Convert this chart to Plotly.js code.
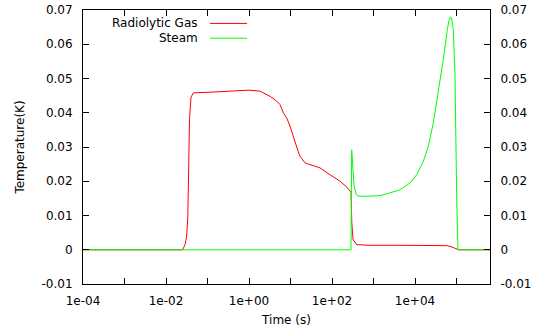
<!DOCTYPE html>
<html>
<head>
<meta charset="utf-8">
<script src="https://cdn.plot.ly/plotly-3.0.1.min.js"></script>
<style>html,body{margin:0;padding:0;background:#fff;}#chart{width:535px;height:335px;}</style>
</head>
<body>
<div id="chart"></div>
<script>
// Radiolytic Gas series
const gasTime = [1e-4, 0.01, 0.0252, 0.0287, 0.0315, 0.0336, 0.0352, 0.0368, 0.040, 0.0455, 0.1148, 0.348, 0.607, 1.0, 1.84, 3.21, 4.65, 5.58, 6.71, 8.09, 9.72, 11.5, 12.8, 15.2, 16.9, 19.5, 22.3, 25.7, 29.5, 51.4, 89.5, 156, 226, 287, 300, 321, 394, 824, 4355, 40000, 58000, 78000, 97300, 112000, 640000];
const gasTemp = [0, 0, 0, 0.0015, 0.004, 0.010, 0.024, 0.038, 0.0445, 0.0458, 0.0460, 0.0463, 0.0466, 0.0466, 0.0463, 0.0448, 0.0434, 0.0424, 0.0400, 0.0385, 0.0361, 0.0333, 0.0312, 0.0288, 0.0273, 0.0262, 0.0254, 0.0251, 0.0249, 0.0239, 0.0219, 0.0200, 0.0183, 0.0168, 0.008, 0.003, 0.0015, 0.0013, 0.0013, 0.0013, 0.0012, 0.0008, 0.0003, 0, 0];
// Steam series
const steamTime = [1e-4, 287, 298, 321, 339, 379, 423, 624, 1435, 2500, 4355, 7590, 11000, 15850, 20900, 27600, 36400, 48100, 60000, 66000, 72400, 78000, 83700, 92000, 101200, 108700, 640000];
const steamTemp = [0, 0, 0.0292, 0.024, 0.019, 0.0162, 0.0157, 0.0156, 0.0158, 0.0166, 0.0175, 0.0195, 0.0219, 0.0258, 0.0302, 0.0370, 0.0458, 0.0556, 0.0643, 0.0670, 0.0680, 0.0670, 0.0643, 0.0507, 0.0146, 0, 0];
// Tick labels
const xTickVals = [1e-4, 1e-2, 1, 1e2, 1e4];
const xTickText = ['1e-04', '1e-02', '1e+00', '1e+02', '1e+04'];
const xMinorVals = [1e-3, 1e-1, 10, 1e3, 1e5];
const yTickVals = [-0.01, 0, 0.01, 0.02, 0.03, 0.04, 0.05, 0.06, 0.07];
const yTickText = ['-0.01', '0', '0.01', '0.02', '0.03', '0.04', '0.05', '0.06', '0.07'];
const seriesNames = ['Radiolytic Gas', 'Steam'];
const seriesColors = ['#ff0000', '#00ff00'];

const font = {family: 'DejaVu Sans', size: 12, color: '#000'};

const traces = [
  {x: gasTime, y: gasTemp, type: 'scatter', mode: 'lines', name: seriesNames[0],
   line: {color: seriesColors[0], width: 1}, showlegend: false},
  {x: steamTime, y: steamTemp, type: 'scatter', mode: 'lines', name: seriesNames[1],
   line: {color: seriesColors[1], width: 1}, showlegend: false},
  {x: [], y: [], yaxis: 'y2', type: 'scatter', mode: 'lines', showlegend: false, hoverinfo: 'skip'}
];

const yCommon = {
  range: [-0.01, 0.07], tickmode: 'array', tickvals: yTickVals, ticktext: yTickText,
  ticks: 'inside', ticklen: 6, tickwidth: 1, tickcolor: '#000',
  showgrid: false, zeroline: false, showline: true, linecolor: '#000', linewidth: 1,
  tickfont: font, ticklabelstandoff: 7
};

const legendY = [0.951, 0.897];
const annotations = seriesNames.map((n, i) => ({
  text: n, xref: 'paper', yref: 'paper', x: 0.2875, y: legendY[i],
  xanchor: 'right', yanchor: 'middle', showarrow: false, font: font
}));
const shapes = seriesNames.map((n, i) => ({
  type: 'line', xref: 'paper', yref: 'paper', x0: 0.312, x1: 0.403, y0: legendY[i], y1: legendY[i],
  line: {color: seriesColors[i], width: 1}
}));

const layout = {
  width: 535, height: 335,
  margin: {l: 83, r: 45, t: 10, b: 51, pad: 0},
  paper_bgcolor: '#fff', plot_bgcolor: '#fff',
  font: font,
  showlegend: false,
  xaxis: {
    type: 'log', range: [-4, 5.807], tickmode: 'array', tickvals: xTickVals, ticktext: xTickText,
    ticks: 'inside', ticklen: 6, tickwidth: 1, tickcolor: '#000', mirror: 'allticks',
    minor: {tickmode: 'array', tickvals: xMinorVals, ticks: 'inside', ticklen: 3, tickcolor: '#000', showgrid: false},
    showgrid: false, zeroline: false, showline: true, linecolor: '#000', linewidth: 1,
    tickfont: font, ticklabelstandoff: 6,
    title: {text: 'Time (s)', font: font, standoff: 8}
  },
  yaxis: Object.assign({}, yCommon, {
    title: {text: 'Temperature(K)', font: font, standoff: 14}
  }),
  yaxis2: Object.assign({}, yCommon, {overlaying: 'y', side: 'right', matches: 'y'}),
  annotations: annotations,
  shapes: shapes
};

Plotly.newPlot('chart', traces, layout, {displayModeBar: false, staticPlot: true});
</script>
</body>
</html>
